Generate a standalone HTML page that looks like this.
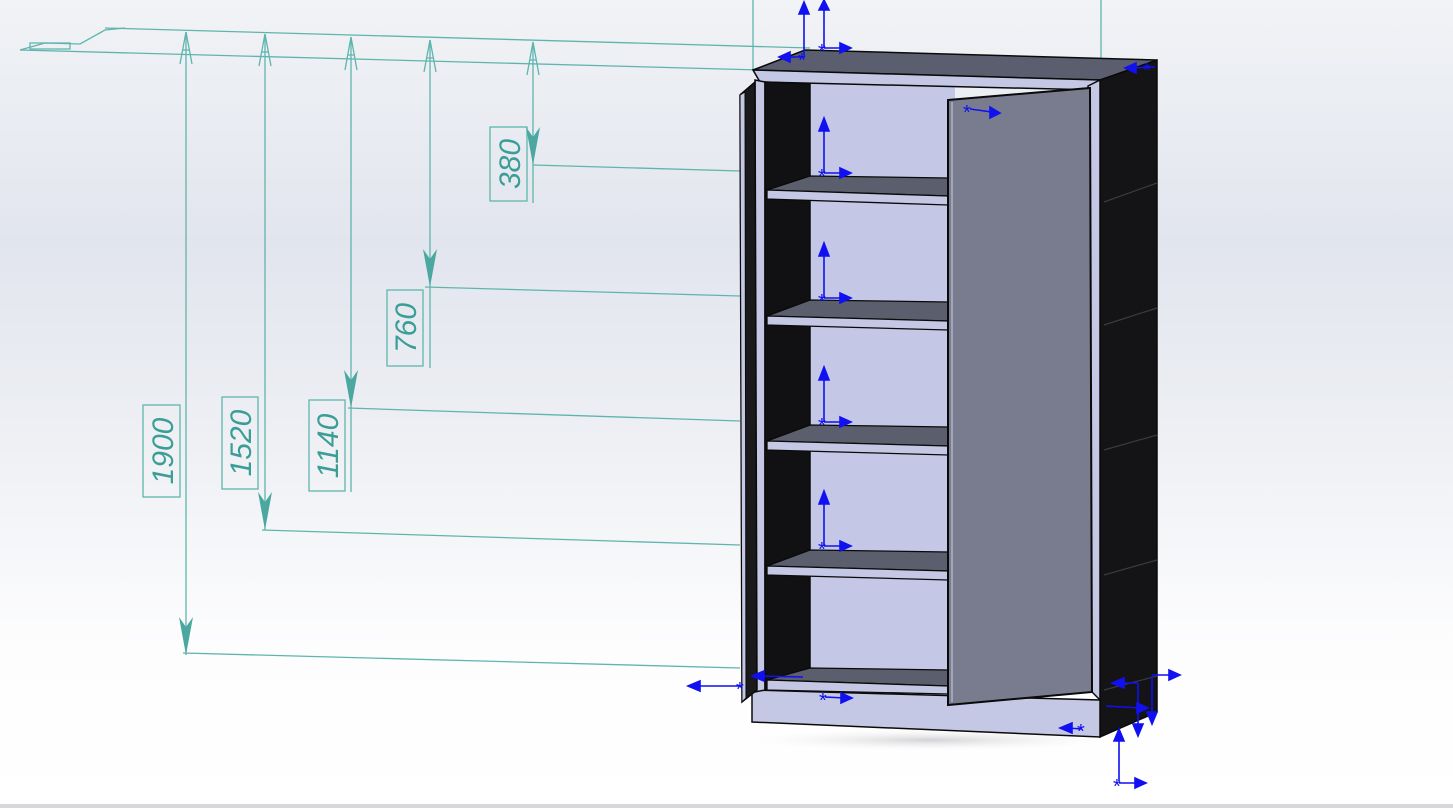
<!DOCTYPE html>
<html><head><meta charset="utf-8"><style>
html,body{margin:0;padding:0;width:1453px;height:808px;overflow:hidden;background:#fff}
svg{display:block}
text{font-family:"Liberation Sans",sans-serif;font-style:italic;fill:#3a9e96;font-size:30px}
</style></head><body>
<svg width="1453" height="808" viewBox="0 0 1453 808" xmlns="http://www.w3.org/2000/svg">
<defs>
<linearGradient id="bg" x1="0" y1="0" x2="0" y2="1">
<stop offset="0" stop-color="#f1f3f6"/>
<stop offset="0.3" stop-color="#e2e5ee"/>
<stop offset="0.55" stop-color="#eef0f4"/>
<stop offset="0.8" stop-color="#fdfdfe"/>
<stop offset="1" stop-color="#ffffff"/>
</linearGradient>
<radialGradient id="sh" cx="0.5" cy="0.5" r="0.5">
<stop offset="0" stop-color="#c8c8cc" stop-opacity="0.8"/>
<stop offset="1" stop-color="#fff" stop-opacity="0"/>
</radialGradient>
</defs>
<rect width="1453" height="808" fill="url(#bg)"/>
<rect x="0" y="804" width="1453" height="4" fill="#d8d8da"/>

<ellipse cx="930" cy="740" rx="200" ry="12" fill="url(#sh)"/>

<g stroke="#5fb5ad" stroke-width="1.3" fill="none">
<line x1="105" y1="28" x2="810" y2="48"/>
<line x1="20" y1="50" x2="760" y2="70"/>
<path d="M20 50 L45 43 L80 44 L105 30 L125 28"/>
<rect x="30" y="43" width="40" height="6"/>
<line x1="753" y1="0" x2="753" y2="70"/>
<line x1="1101" y1="0" x2="1101" y2="78"/>
<line x1="186" y1="32" x2="186" y2="655"/>
<line x1="265" y1="34" x2="265" y2="530"/>
<line x1="351" y1="37" x2="351" y2="492"/>
<line x1="430" y1="40" x2="430" y2="368"/>
<line x1="533" y1="42" x2="533" y2="203"/>
<line x1="183" y1="653" x2="740" y2="668"/>
<line x1="262" y1="530" x2="740" y2="545"/>
<line x1="348" y1="408" x2="740" y2="421"/>
<line x1="425" y1="287" x2="740" y2="296"/>
<line x1="533" y1="165" x2="740" y2="171"/>
<path d="M186 32 L180 64 M186 32 L192 64 M183 50 L189 50"/>
<path d="M265 34 L259 66 M265 34 L271 66 M262 52 L268 52"/>
<path d="M351 37 L345 70 M351 37 L357 70 M348 55 L354 55"/>
<path d="M430 40 L424 72 M430 40 L436 72 M427 58 L433 58"/>
<path d="M533 42 L527 75 M533 42 L539 75 M530 60 L536 60"/>
<rect x="143" y="405" width="37" height="92"/>
<rect x="222" y="397" width="36" height="92"/>
<rect x="309" y="400" width="36" height="91"/>
<rect x="387" y="290" width="36" height="76"/>
<rect x="490" y="127" width="37" height="74"/>
</g>
<g fill="#4aa8a0">
<path d="M186 655 L179 617 L186 627 L193 617Z"/>
<path d="M265 530 L258 492 L265 502 L272 492Z"/>
<path d="M351 408 L344 370 L351 380 L358 370Z"/>
<path d="M430 287 L423 249 L430 259 L437 249Z"/>
<path d="M533 165 L526 127 L533 137 L540 127Z"/>
</g>
<text transform="translate(173,451) rotate(-90)" text-anchor="middle">1900</text>
<text transform="translate(251,443) rotate(-90)" text-anchor="middle">1520</text>
<text transform="translate(338,446) rotate(-90)" text-anchor="middle">1140</text>
<text transform="translate(416,328) rotate(-90)" text-anchor="middle">760</text>
<text transform="translate(520,164) rotate(-90)" text-anchor="middle">380</text>

<!-- back panel first -->
<rect x="805" y="76" width="150" height="600" fill="#c4c8e6"/>
<g stroke="#0a0a0a" stroke-width="1.5">
<polygon points="1100,80 1157,60 1157,712 1100,737" fill="#141416"/>
<polygon points="753,70 805,50 1157,60 1100,80" fill="#5b5e6e"/>
<polygon points="753,70 1100,80 1098,90 760,82" fill="#c5c8e4"/>
<polygon points="752,690 1100,700 1100,737 752,722" fill="#c5c8e4"/>
<polygon points="755,80 765,82 765,690 755,692" fill="#c5c8e4"/>
<polygon points="765,82 810,84 810,670 765,690" fill="#111113"/>
<polygon points="1088,86 1100,80 1100,700 1090,690" fill="#c5c8e4"/>
</g>
<g stroke="#0a0a0a" stroke-width="1.3">
<polygon points="767,190 810,176 948,178 948,196" fill="#5b5e6c"/>
<polygon points="767,190 948,196 948,205 767,199" fill="#c5c8e4"/>
<polygon points="767,316 810,300 948,302 948,321" fill="#5b5e6c"/>
<polygon points="767,316 948,321 948,330 767,325" fill="#c5c8e4"/>
<polygon points="767,441 810,425 948,427 948,446" fill="#5b5e6c"/>
<polygon points="767,441 948,446 948,455 767,450" fill="#c5c8e4"/>
<polygon points="767,566 810,550 948,552 948,571" fill="#5b5e6c"/>
<polygon points="767,566 948,571 948,580 767,575" fill="#c5c8e4"/>
<polygon points="767,680 810,668 948,670 948,686" fill="#5b5e6c"/>
<polygon points="767,680 948,686 948,694 767,690" fill="#c5c8e4"/>
</g>
<polygon points="740,95 755,82 757,690 742,702" fill="#1a1a1c" stroke="#0a0a0a" stroke-width="1.5"/>
<polygon points="740,95 745,92 746,698 742,702" fill="#c5c8e4" stroke="#0a0a0a" stroke-width="1"/>
<polygon points="948,100 1090,88 1092,692 948,705" fill="#787c8e" stroke="#0a0a0a" stroke-width="2"/>
<line x1="952" y1="102" x2="952" y2="702" stroke="#b0b3c8" stroke-width="1.5"/>
<g stroke="#3a3a40" stroke-width="1.2">
<line x1="1104" y1="202" x2="1157" y2="183"/>
<line x1="1104" y1="325" x2="1157" y2="308"/>
<line x1="1104" y1="450" x2="1157" y2="435"/>
<line x1="1104" y1="575" x2="1157" y2="560"/>
<line x1="1104" y1="690" x2="1157" y2="676"/>
</g>

<g stroke="#1010f0" stroke-width="1.6" fill="#1010f0">
<line x1="804" y1="55" x2="804" y2="8"/><path d="M804 2 L799 14 L809 14Z"/>
<line x1="824" y1="48" x2="824" y2="4"/><path d="M824 0 L819 10 L829 10Z"/>
<line x1="805" y1="57" x2="785" y2="57"/><path d="M779 57 L790 52 L790 62Z"/>
<line x1="824" y1="48" x2="845" y2="48"/><path d="M851 48 L840 43 L840 53Z"/>
<line x1="824" y1="173" x2="824" y2="125"/><path d="M824 118 L819 131 L829 131Z"/>
<line x1="824" y1="173" x2="845" y2="173"/><path d="M851 173 L840 168 L840 178Z"/>
<line x1="824" y1="298" x2="824" y2="250"/><path d="M824 243 L819 256 L829 256Z"/>
<line x1="824" y1="298" x2="845" y2="298"/><path d="M851 298 L840 293 L840 303Z"/>
<line x1="824" y1="422" x2="824" y2="374"/><path d="M824 367 L819 380 L829 380Z"/>
<line x1="824" y1="422" x2="845" y2="422"/><path d="M851 422 L840 417 L840 427Z"/>
<line x1="824" y1="546" x2="824" y2="498"/><path d="M824 491 L819 504 L829 504Z"/>
<line x1="824" y1="546" x2="845" y2="546"/><path d="M851 546 L840 541 L840 551Z"/>
<line x1="970" y1="109" x2="992" y2="112"/><path d="M1000 113 L990 107 L990 118Z"/>
<line x1="1155" y1="67" x2="1132" y2="68"/><path d="M1125 68 L1136 63 L1136 73Z"/>
<line x1="742" y1="686" x2="697" y2="686"/><path d="M688 686 L700 681 L700 691Z"/>
<line x1="803" y1="677" x2="760" y2="676"/><path d="M752 676 L764 671 L764 681Z"/>
<line x1="825" y1="697" x2="845" y2="698"/><path d="M852 698 L841 693 L841 703Z"/>
<line x1="1082" y1="729" x2="1068" y2="728"/><path d="M1060 728 L1072 723 L1072 733Z"/>
<line x1="1106" y1="706" x2="1140" y2="708"/><path d="M1148 708 L1137 703 L1137 713Z"/>
<line x1="1138" y1="683" x2="1138" y2="728"/><path d="M1138 736 L1133 724 L1143 724Z"/>
<line x1="1152" y1="676" x2="1152" y2="716"/><path d="M1152 724 L1147 712 L1157 712Z"/>
<line x1="1138" y1="683" x2="1122" y2="683"/><path d="M1112 683 L1124 678 L1124 688Z"/>
<line x1="1152" y1="675" x2="1172" y2="675"/><path d="M1180 675 L1169 670 L1169 680Z"/>
<line x1="1119" y1="781" x2="1119" y2="738"/><path d="M1119 729 L1114 741 L1124 741Z"/>
<line x1="1119" y1="783" x2="1138" y2="783"/><path d="M1146 783 L1135 778 L1135 788Z"/>
</g>
<g style="fill:#1010f0;font-style:normal;font-size:20px">
<text x="798" y="67" style="fill:#1010f0;font-style:normal;font-size:20px">*</text>
<text x="818" y="58" style="fill:#1010f0;font-style:normal;font-size:20px">*</text>
<text x="818" y="183" style="fill:#1010f0;font-style:normal;font-size:20px">*</text>
<text x="818" y="308" style="fill:#1010f0;font-style:normal;font-size:20px">*</text>
<text x="818" y="432" style="fill:#1010f0;font-style:normal;font-size:20px">*</text>
<text x="818" y="556" style="fill:#1010f0;font-style:normal;font-size:20px">*</text>
<text x="963" y="119" style="fill:#1010f0;font-style:normal;font-size:20px">*</text>
<text x="1143" y="77" style="fill:#1010f0;font-style:normal;font-size:20px">*</text>
<text x="1113" y="793" style="fill:#1010f0;font-style:normal;font-size:20px">*</text>
<text x="1077" y="738" style="fill:#1010f0;font-style:normal;font-size:20px">*</text>
<text x="819" y="707" style="fill:#1010f0;font-style:normal;font-size:20px">*</text>
<text x="736" y="696" style="fill:#1010f0;font-style:normal;font-size:20px">*</text>
</g>
</svg>
</body></html>
